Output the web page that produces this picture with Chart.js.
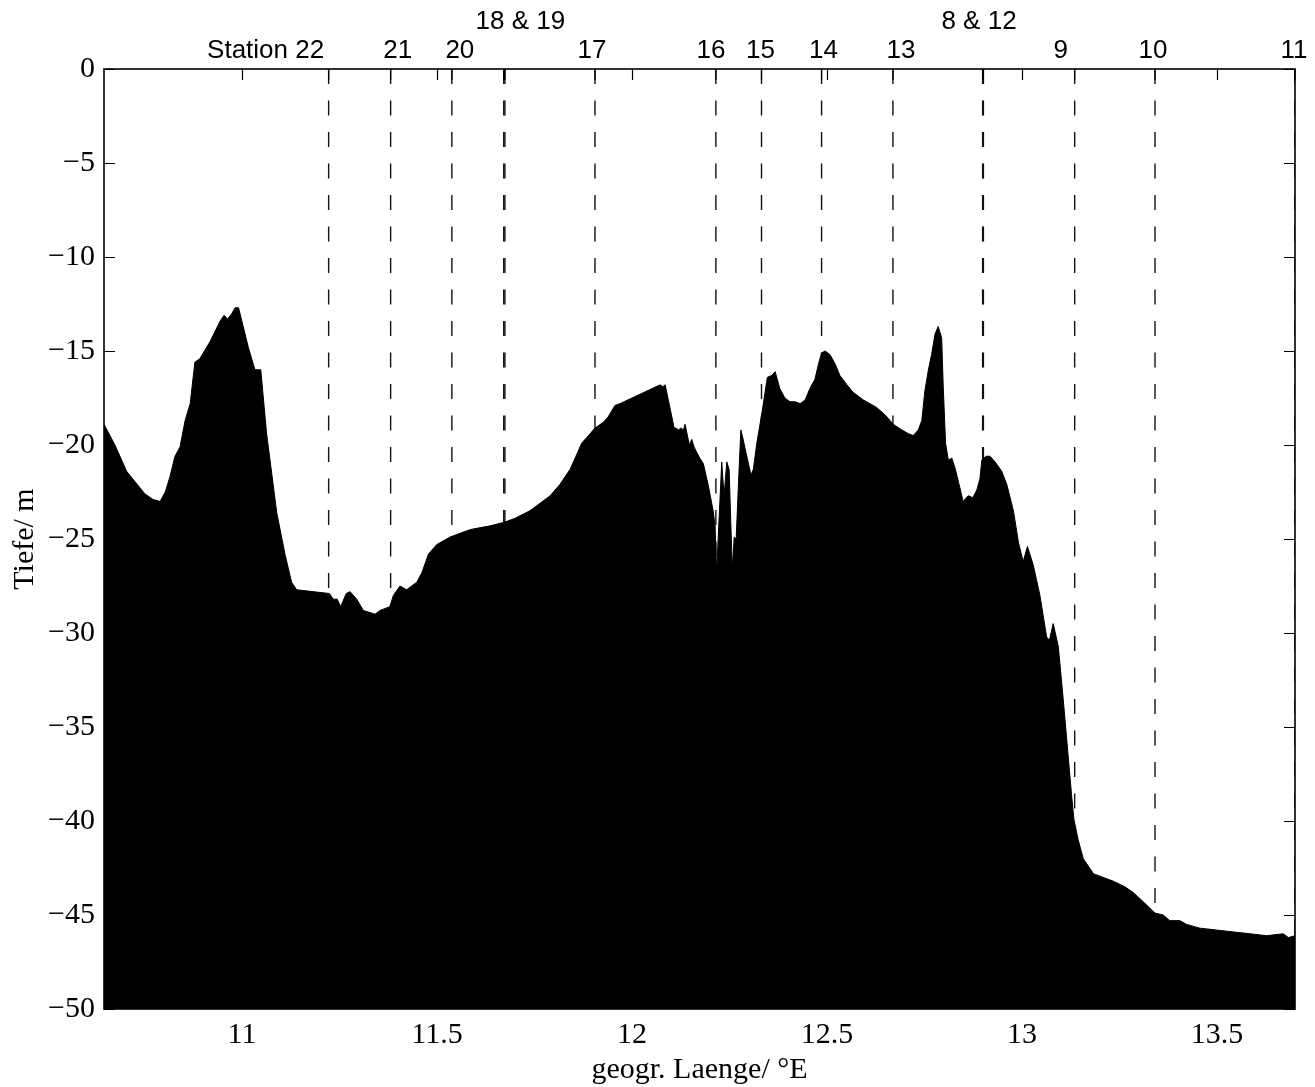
<!DOCTYPE html>
<html><head><meta charset="utf-8">
<script src="https://cdn.jsdelivr.net/npm/chart.js@4.4.0/dist/chart.umd.min.js"></script>
<style>html,body{margin:0;padding:0;background:#fff;}canvas{display:block;}</style>
</head><body>
<canvas id="c" width="1315" height="1087"></canvas>
<script>
// geographic longitude (°E) of the depth profile points
const lonDeg = [10.646,10.674,10.704,10.751,10.772,10.790,10.803,10.815,10.828,10.841,10.854,10.867,10.879,10.892,10.918,10.944,10.954,10.963,10.974,10.982,10.991,11.003,11.016,11.033,11.048,11.063,11.076,11.089,11.110,11.127,11.140,11.224,11.234,11.244,11.253,11.267,11.277,11.294,11.311,11.341,11.354,11.379,11.388,11.405,11.422,11.448,11.461,11.478,11.499,11.533,11.585,11.636,11.674,11.700,11.738,11.777,11.790,11.815,11.841,11.854,11.871,11.884,11.905,11.926,11.939,11.956,11.969,12.072,12.079,12.085,12.093,12.102,12.108,12.113,12.119,12.125,12.132,12.136,12.140,12.147,12.153,12.159,12.166,12.174,12.183,12.196,12.208,12.213,12.217,12.221,12.230,12.236,12.243,12.249,12.257,12.262,12.267,12.273,12.279,12.285,12.290,12.305,12.311,12.320,12.333,12.347,12.358,12.367,12.379,12.392,12.405,12.418,12.431,12.444,12.456,12.469,12.478,12.486,12.495,12.508,12.521,12.533,12.551,12.567,12.593,12.627,12.649,12.670,12.692,12.709,12.721,12.734,12.743,12.751,12.760,12.768,12.777,12.785,12.794,12.798,12.804,12.811,12.820,12.828,12.841,12.849,12.862,12.874,12.884,12.892,12.897,12.908,12.918,12.931,12.948,12.961,12.978,12.991,13.003,13.014,13.029,13.046,13.063,13.070,13.080,13.093,13.106,13.119,13.127,13.133,13.144,13.157,13.170,13.183,13.208,13.234,13.264,13.285,13.311,13.341,13.362,13.379,13.405,13.422,13.456,13.499,13.542,13.585,13.627,13.670,13.683,13.700];
// water depth (m) at those points
const depthM = [-18.9,-20.0,-21.4,-22.6,-22.9,-23.0,-22.5,-21.7,-20.6,-20.1,-18.7,-17.8,-15.6,-15.4,-14.5,-13.4,-13.1,-13.3,-13.0,-12.7,-12.7,-13.7,-14.8,-16.0,-16.0,-19.4,-21.5,-23.6,-25.8,-27.3,-27.7,-27.9,-28.2,-28.2,-28.6,-27.9,-27.8,-28.2,-28.8,-29.0,-28.8,-28.6,-28.0,-27.5,-27.7,-27.3,-26.8,-25.8,-25.3,-24.9,-24.5,-24.3,-24.1,-23.9,-23.5,-22.9,-22.7,-22.1,-21.3,-20.7,-19.9,-19.6,-19.1,-18.8,-18.5,-17.9,-17.8,-16.8,-16.9,-16.8,-17.6,-18.5,-19.1,-19.1,-19.2,-19.1,-19.2,-18.9,-19.3,-20.0,-19.7,-20.1,-20.4,-20.7,-21.0,-22.2,-23.5,-24.3,-26.8,-24.9,-20.9,-22.7,-20.9,-21.3,-26.6,-24.9,-25.0,-22.0,-19.2,-19.7,-20.2,-21.6,-21.3,-19.9,-18.3,-16.4,-16.3,-16.1,-17.0,-17.5,-17.7,-17.7,-17.8,-17.6,-17.0,-16.5,-15.7,-15.1,-15.0,-15.2,-15.7,-16.3,-16.8,-17.2,-17.6,-18.0,-18.4,-18.9,-19.2,-19.4,-19.5,-19.2,-18.7,-17.1,-16.0,-15.2,-14.1,-13.7,-14.3,-16.9,-19.9,-20.8,-20.7,-21.2,-22.3,-23.0,-22.7,-22.8,-22.4,-21.8,-20.8,-20.6,-20.6,-20.9,-21.4,-22.1,-23.5,-25.2,-26.2,-25.4,-26.4,-28.0,-30.2,-30.4,-29.5,-30.7,-33.6,-36.7,-38.6,-39.9,-41.0,-42.0,-42.4,-42.8,-43.0,-43.2,-43.5,-43.8,-44.3,-44.9,-45.0,-45.3,-45.3,-45.5,-45.7,-45.8,-45.9,-46.0,-46.1,-46.0,-46.2,-46.1];
// stations
const stationNames = ['22','21','20','18','19','17','16','15','14','13','8','12','9','10','11'];
const stationLon = [11.222,11.381,11.538,11.671,11.674,11.905,12.215,12.332,12.486,12.669,12.899,12.901,13.135,13.341,13.700];
const labelTexts = ['Station 22','21','20','18 & 19','17','16','15','14','13','8 & 12','9','10','11'];
const labelGroups = [[0],[1],[2],[3,4],[5],[6],[7],[8],[9],[10,11],[12],[13],[14]];
// axes
const xTickValues = [11, 11.5, 12, 12.5, 13, 13.5];
const yTickValues = [0, -5, -10, -15, -20, -25, -30, -35, -40, -45, -50];
const xRange = [10.646, 13.70];
const yRange = [-50, 0];

// label placement (pixels relative to the station tick) and row
const labelDx = [-63, 7, 8, 16, -3, -5, -1, 2, 8, -4, -14, -2, -1];
const labelRow = [0, 0, 0, 1, 0, 0, 0, 0, 0, 1, 0, 0, 0];

const frame = {
  id: 'frame',
  afterDatasetsDraw(chart) {
    const {ctx, chartArea: a, scales: {x, y}} = chart;
    ctx.save();
    const tl = 11;
    ctx.strokeStyle = '#000';
    ctx.lineWidth = 1.2;
    ctx.beginPath();
    xTickValues.forEach(v => {
      const px = Math.round(x.getPixelForValue(v)) + 0.5;
      ctx.moveTo(px, a.bottom); ctx.lineTo(px, a.bottom - tl);
      ctx.moveTo(px, a.top); ctx.lineTo(px, a.top + tl);
    });
    yTickValues.forEach(v => {
      const py = Math.round(y.getPixelForValue(v)) + 0.5;
      ctx.moveTo(a.left, py); ctx.lineTo(a.left + tl, py);
      ctx.moveTo(a.right, py); ctx.lineTo(a.right - tl, py);
    });
    stationLon.forEach(v => {
      const px = x.getPixelForValue(v);
      ctx.moveTo(px, a.top); ctx.lineTo(px, a.top + tl);
    });
    ctx.stroke();
    ctx.lineWidth = 1.6;
    ctx.strokeRect(a.left, a.top, a.right - a.left, a.bottom - a.top);
    ctx.fillStyle = '#000';
    ctx.font = '26px "Liberation Sans", Arial, sans-serif';
    ctx.textAlign = 'center';
    ctx.textBaseline = 'middle';
    labelTexts.forEach((t, i) => {
      const g = labelGroups[i];
      const lon = g.reduce((s, k) => s + stationLon[k], 0) / g.length;
      const px = x.getPixelForValue(lon) + labelDx[i];
      const py = labelRow[i] ? a.top - 47 : a.top - 18;
      ctx.fillText(t, px, py);
    });
    ctx.restore();
  }
};

const serif = '"Liberation Serif", "Times New Roman", serif';

new Chart(document.getElementById('c'), {
  type: 'line',
  data: {
    datasets: [
      {
        label: 'Tiefe',
        data: lonDeg.map((v, i) => ({x: v, y: depthM[i]})),
        borderColor: '#000', backgroundColor: '#000', borderWidth: 1,
        pointRadius: 0, fill: 'start', tension: 0
      },
      ...stationLon.map((v, i) => ({
        label: 'Station ' + stationNames[i],
        data: [{x: v, y: yRange[1]}, {x: v, y: yRange[0]}],
        borderColor: '#111', borderWidth: 1.4, borderDash: [15, 16.5],
        pointRadius: 0, fill: false
      }))
    ]
  },
  options: {
    responsive: false, animation: false, devicePixelRatio: 1,
    layout: {padding: {top: 69, right: 20, left: 0, bottom: 0}},
    plugins: {legend: {display: false}, tooltip: {enabled: false}},
    scales: {
      x: {
        type: 'linear', min: xRange[0], max: xRange[1],
        grid: {display: false, drawTicks: false}, border: {display: false},
        afterBuildTicks: s => { s.ticks = xTickValues.map(v => ({value: v})); },
        afterFit: s => { s.height = 78; },
        ticks: {font: {family: serif, size: 30}, color: '#000', padding: 8, maxRotation: 0, autoSkip: false,
                callback: v => String(v)},
        title: {display: true, text: 'geogr. Laenge/ °E', color: '#000',
                font: {family: serif, size: 30, lineHeight: 1}, padding: {top: 0, bottom: 2}}
      },
      y: {
        type: 'linear', min: yRange[0], max: yRange[1],
        grid: {display: false, drawTicks: false}, border: {display: false},
        afterBuildTicks: s => { s.ticks = yTickValues.map(v => ({value: v})); },
        afterFit: s => { s.width = 104; },
        ticks: {font: {family: serif, size: 30}, color: '#000', padding: 9, autoSkip: false,
                callback: v => v < 0 ? '\u2212' + Math.abs(v) : String(v)},
        title: {display: true, text: 'Tiefe/ m', color: '#000',
                font: {family: serif, size: 30, lineHeight: 1}, padding: {top: 10, bottom: 0}}
      }
    }
  },
  plugins: [frame]
});
</script>
</body></html>
